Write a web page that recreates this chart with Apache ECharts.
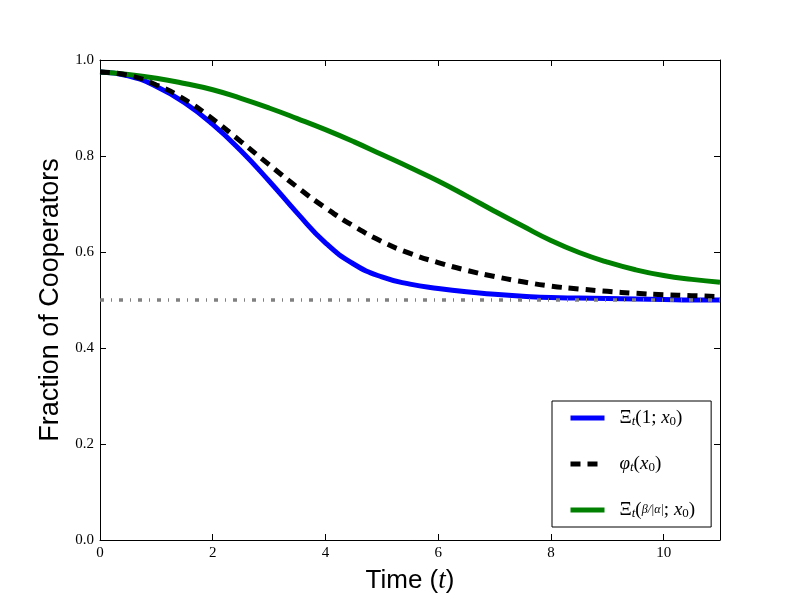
<!DOCTYPE html>
<html>
<head>
<meta charset="utf-8">
<script src="https://cdn.jsdelivr.net/npm/echarts@6/dist/echarts.min.js"></script>
<style>
  html, body { margin: 0; padding: 0; background: #fff; }
  #main { width: 800px; height: 600px; }
</style>
</head>
<body>
<div id="main"></div>
<script>
// time points and curves
const times = [0, 0.5, 1, 1.5, 2, 2.5, 3, 3.5, 4, 4.5, 5, 5.5, 6, 6.5, 7, 7.5, 8, 8.5, 9, 9.5, 10, 10.5, 11];
const xiOne = [0.975, 0.967, 0.945, 0.911, 0.866, 0.811, 0.748, 0.681, 0.619, 0.575, 0.548, 0.533, 0.524, 0.517, 0.512, 0.508, 0.505, 0.504, 0.503, 0.502, 0.501, 0.500, 0.500];
const phi = [0.975, 0.968, 0.948, 0.918, 0.877, 0.830, 0.782, 0.735, 0.692, 0.654, 0.622, 0.597, 0.578, 0.562, 0.549, 0.538, 0.529, 0.523, 0.518, 0.514, 0.511, 0.509, 0.507];
const xiBeta = [0.975, 0.970, 0.962, 0.951, 0.938, 0.920, 0.900, 0.878, 0.855, 0.830, 0.803, 0.776, 0.748, 0.717, 0.685, 0.654, 0.624, 0.599, 0.579, 0.563, 0.551, 0.543, 0.537];
const halfLine = 0.5;

const xTicks = [0, 2, 4, 6, 8, 10];
const yTicks = [0.0, 0.2, 0.4, 0.6, 0.8, 1.0];

const names = ['xi1', 'phi', 'xib'];
const legendText = {
  xi1: '{gap|}{rm|Ξ}{sub|t}{rm|(1; }{it|x}{sub0|0}{rm|)}',
  phi: '{gap|}{it|φ}{sub|t}{rm|(}{it|x}{sub0|0}{rm|)}',
  xib: '{gap|}{rm|Ξ}{sub|t}{rm|(}{frac|β/|α|}{rm|; }{it|x}{sub0|0}{rm|)}'
};

function pairs(ys) {
  return times.map((t, i) => [t, ys[i]]);
}

let mycharts = echarts.init(document.getElementById('main'));

const serif = 'Liberation Serif';
const sans = 'Liberation Sans';

function xAx(pos, show) {
  return {
    type: 'value', position: pos, min: 0, max: 11, interval: 2,
    axisLine: { show: true, onZero: false, lineStyle: { color: '#000', width: 1 } },
    axisTick: { show: true, inside: true, length: 6, lineStyle: { color: '#000' } },
    axisLabel: {
      show: show, color: '#000', fontFamily: serif, fontSize: 15, margin: 6,
      formatter: v => (xTicks.indexOf(v) >= 0 ? String(v) : '')
    },
    splitLine: { show: false }
  };
}
function yAx(pos, show) {
  return {
    type: 'value', position: pos, min: 0, max: 1, interval: 0.2,
    axisLine: { show: true, onZero: false, lineStyle: { color: '#000', width: 1 } },
    axisTick: { show: true, inside: true, length: 6, lineStyle: { color: '#000' } },
    axisLabel: {
      show: show, color: '#000', fontFamily: serif, fontSize: 15, margin: 6,
      formatter: v => yTicks.some(y => Math.abs(y - v) < 1e-6) ? v.toFixed(1) : ''
    },
    splitLine: { show: false }
  };
}

let xBottom = xAx('bottom', true);
xBottom.name = 'Time ({it|t})';
xBottom.nameLocation = 'middle';
xBottom.nameGap = 27;
xBottom.nameTextStyle = {
  color: '#000', fontFamily: sans, fontSize: 26,
  rich: { it: { fontFamily: serif, fontStyle: 'italic', fontSize: 27 } }
};
let yLeft = yAx('left', true);
yLeft.name = 'Fraction of Cooperators';
yLeft.nameLocation = 'middle';
yLeft.nameGap = 35;
yLeft.nameTextStyle = { color: '#000', fontFamily: sans, fontSize: 27 };

let option = {
  animation: false,
  backgroundColor: '#fff',
  grid: { left: 100, right: 80, top: 60, bottom: 60 },
  xAxis: [xBottom, xAx('top', false)],
  yAxis: [yLeft, yAx('right', false)],
  legend: {
    data: names,
    orient: 'vertical',
    left: 552, top: 401,
    padding: [7, 16, 7, 16],
    itemGap: 26,
    itemWidth: 34, itemHeight: 5,
    borderColor: '#000', borderWidth: 1, borderRadius: 0,
    backgroundColor: '#fff',
    itemStyle: { opacity: 0 },
    lineStyle: { width: 5 },
    formatter: name => legendText[name],
    textStyle: {
      color: '#000', fontFamily: serif, fontSize: 19, lineHeight: 20,
      rich: {
        gap: { width: 10 },
        rm: { fontFamily: serif, fontSize: 19, lineHeight: 20 },
        it: { fontFamily: serif, fontStyle: 'italic', fontSize: 19, lineHeight: 20 },
        sub: { fontFamily: serif, fontStyle: 'italic', fontSize: 13, lineHeight: 12, verticalAlign: 'bottom' },
        sub0: { fontFamily: serif, fontSize: 13, lineHeight: 12, verticalAlign: 'bottom' },
        frac: { fontFamily: serif, fontStyle: 'italic', fontSize: 12, lineHeight: 20 }
      }
    }
  },
  series: [
    {
      name: 'xi1', type: 'line', smooth: 0.5, symbol: 'none', z: 3,
      lineStyle: { color: '#0000ff', width: 5 },
      itemStyle: { color: '#0000ff' },
      data: pairs(xiOne)
    },
    {
      name: 'phi', type: 'line', smooth: 0.5, symbol: 'none', z: 4,
      lineStyle: { color: '#000', width: 5, type: [10, 7], cap: 'butt' },
      itemStyle: { color: '#000' },
      data: pairs(phi)
    },
    {
      name: 'xib', type: 'line', smooth: 0.5, symbol: 'none', z: 3,
      lineStyle: { color: '#008000', width: 5 },
      itemStyle: { color: '#008000' },
      data: pairs(xiBeta)
    },
    {
      name: 'half', type: 'line', symbol: 'none', z: 5,
      lineStyle: { color: '#808080', width: 3.5, type: [4, 7, 1, 7] },
      data: [[0, halfLine], [11, halfLine]]
    }
  ]
};
mycharts.setOption(option);
</script>
</body>
</html>
